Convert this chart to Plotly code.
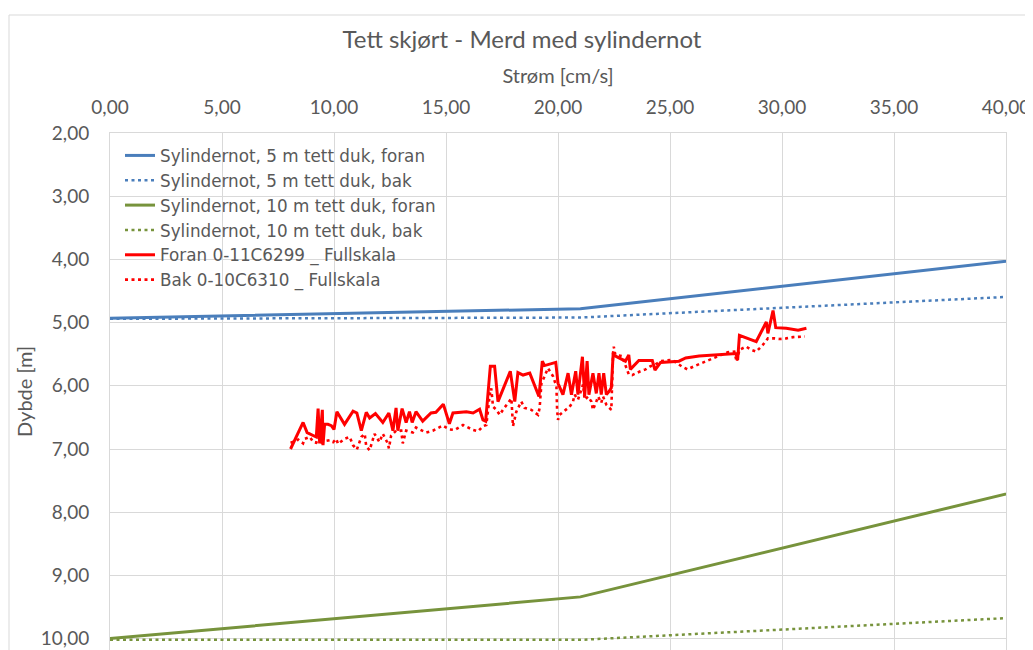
import plotly.graph_objects as go

# Model lines (current speed cm/s -> depth m)
model_x = [0.0, 21.0, 42.0]
cyl5_front = [4.93, 4.78, 3.95]
cyl5_back = [4.94, 4.92, 4.56]
cyl10_front = [10.0, 9.34, 7.54]
cyl10_back = [10.02, 10.02, 9.64]

# Full-scale measurements, front
foran_x = [8.06, 8.62, 8.80, 9.21, 9.29, 9.36, 9.48, 9.51, 9.58, 9.73, 9.88, 10.00, 10.13, 10.47,
           10.85, 11.02, 11.22, 11.44, 11.59, 11.85, 12.18, 12.45, 12.63, 12.77, 12.85, 13.04,
           13.22, 13.37, 13.49, 13.66, 13.96, 14.33, 14.55, 14.88, 15.15, 15.31, 15.91, 16.21,
           16.50, 16.65, 16.77, 16.98, 17.17, 17.32, 17.87, 18.07, 18.21, 18.44, 18.74, 18.96,
           19.15, 19.30, 19.40, 19.90, 20.00, 20.22, 20.45, 20.60, 20.79, 20.89, 21.09, 21.19,
           21.30, 21.38, 21.56, 21.71, 21.83, 21.93, 22.04, 22.16, 22.28, 22.38, 22.46, 23.01,
           23.16, 23.23, 23.61, 24.21, 24.33, 24.58, 25.40, 25.70, 26.30, 27.95, 28.02, 28.10,
           28.85, 29.30, 29.37, 29.60, 29.72, 30.19, 30.72, 31.09]
foran_y = [7.00, 6.58, 6.74, 6.81, 6.36, 6.91, 6.38, 6.94, 6.61, 6.61, 6.63, 6.69, 6.41, 6.61,
           6.40, 6.43, 6.71, 6.42, 6.51, 6.44, 6.58, 6.43, 6.71, 6.35, 6.71, 6.36,
           6.58, 6.41, 6.58, 6.41, 6.56, 6.43, 6.42, 6.29, 6.60, 6.43, 6.41, 6.43,
           6.37, 6.54, 6.56, 5.69, 5.69, 6.25, 5.77, 6.25, 5.79, 5.83, 5.80, 6.01,
           6.17, 5.61, 5.68, 5.63, 5.96, 6.14, 5.80, 6.14, 5.77, 6.14, 5.54, 6.17,
           5.61, 6.14, 5.80, 6.12, 5.80, 6.14, 5.80, 6.14, 6.09, 6.03, 5.51, 5.61,
           5.51, 5.74, 5.60, 5.60, 5.75, 5.63, 5.61, 5.56, 5.53, 5.49, 5.59, 5.20,
           5.30, 4.99, 5.17, 4.81, 5.08, 5.09, 5.12, 5.09]

# Full-scale measurements, back
bak_x = [8.06, 8.25, 8.40, 8.62, 8.69, 8.92, 9.07, 9.21, 9.33, 9.44, 9.51, 9.66, 9.81, 9.96,
         10.10, 10.18, 10.47, 10.70, 10.85, 11.02, 11.22, 11.37, 11.44, 11.59, 11.81, 12.03,
         12.18, 12.40, 12.45, 12.55, 12.77, 13.00, 13.07, 13.22, 13.52, 13.66, 14.11, 14.41,
         14.85, 15.15, 15.39, 15.76, 16.21, 16.43, 16.65, 16.80, 16.88, 16.95, 17.02, 17.10,
         17.25, 17.40, 17.54, 17.84, 17.92, 17.99, 18.07, 18.14, 18.36, 18.51, 18.81, 19.11,
         19.18, 19.26, 19.40, 19.55, 19.78, 19.93, 19.96, 20.00, 20.07, 20.37, 20.52, 20.67,
         20.74, 20.89, 21.04, 21.12, 21.19, 21.34, 21.49, 21.56, 21.71, 21.79, 21.93, 22.01,
         22.16, 22.38, 22.46, 22.49, 22.56, 22.86, 23.16, 23.31, 23.68, 23.91, 24.13, 24.36,
         24.58, 25.10, 25.55, 25.78, 26.08, 26.60, 27.20, 27.57, 27.87, 27.98, 28.10, 28.40,
         28.62, 28.85, 29.15, 29.37, 29.67, 29.90, 30.19, 30.49, 31.02]
bak_y = [6.90, 6.88, 6.85, 6.91, 6.84, 6.81, 6.89, 6.90, 6.81, 6.89, 6.86, 6.87, 6.86, 6.89,
         6.84, 6.92, 6.84, 6.81, 6.94, 7.01, 6.81, 6.76, 6.96, 7.02, 6.76, 6.89,
         6.76, 6.91, 6.99, 6.79, 6.71, 6.71, 6.91, 6.71, 6.74, 6.66, 6.74, 6.71,
         6.63, 6.69, 6.70, 6.62, 6.70, 6.72, 6.64, 6.62, 6.38, 6.14, 6.04, 6.33,
         6.38, 6.46, 6.38, 6.25, 6.20, 6.64, 6.54, 6.41, 6.25, 6.35, 6.38, 6.46,
         6.35, 5.96, 5.85, 5.72, 5.85, 6.01, 6.38, 6.54, 6.46, 6.38, 6.33, 6.25,
         6.14, 6.22, 6.04, 5.98, 6.22, 6.17, 6.25, 6.38, 6.25, 6.17, 6.27, 6.17,
         6.30, 6.38, 5.48, 5.38, 5.51, 5.53, 5.82, 5.83, 5.77, 5.74, 5.69, 5.66,
         5.61, 5.59, 5.70, 5.74, 5.69, 5.61, 5.53, 5.47, 5.46, 5.62, 5.43, 5.38,
         5.43, 5.46, 5.35, 5.25, 5.25, 5.26, 5.25, 5.23, 5.22]

x_ticks = [0, 5, 10, 15, 20, 25, 30, 35, 40]
y_ticks = [2, 3, 4, 5, 6, 7, 8, 9, 10]

BLUE = "#4A7EBB"
GREEN = "#77933C"
RED = "#FF0000"
GRID = "#D9D9D9"
TXT = "#595959"
FONT = "Lato"
LEGFONT = "DejaVu Sans"
DOT = "3px,3.5px"

fig = go.Figure()
fig.add_trace(go.Scatter(x=model_x, y=cyl5_front, mode="lines",
                         name="Sylindernot, 5 m tett duk, foran",
                         line=dict(color=BLUE, width=3)))
fig.add_trace(go.Scatter(x=model_x, y=cyl5_back, mode="lines",
                         name="Sylindernot, 5 m tett duk, bak",
                         line=dict(color=BLUE, width=2.5, dash=DOT)))
fig.add_trace(go.Scatter(x=model_x, y=cyl10_front, mode="lines",
                         name="Sylindernot, 10 m tett duk, foran",
                         line=dict(color=GREEN, width=3)))
fig.add_trace(go.Scatter(x=model_x, y=cyl10_back, mode="lines",
                         name="Sylindernot, 10 m tett duk, bak",
                         line=dict(color=GREEN, width=2.5, dash=DOT)))
fig.add_trace(go.Scatter(x=foran_x, y=foran_y, mode="lines",
                         name="Foran 0-11C6299 _ Fullskala",
                         line=dict(color=RED, width=3)))
fig.add_trace(go.Scatter(x=bak_x, y=bak_y, mode="lines",
                         name="Bak 0-10C6310 _ Fullskala",
                         line=dict(color=RED, width=2.6, dash=DOT)))

# page body has an 8px margin: figure coords = screen coords - 8
W, H = 1025, 642
L, R, T, B = 102, 27, 125, 0
pw, ph = W - L - R, H - T - B

fig.update_layout(
    width=W, height=H,
    margin=dict(l=L, r=R, t=T, b=B, pad=0, autoexpand=False),
    paper_bgcolor="white", plot_bgcolor="white",
    separators=", ",
    font=dict(family=FONT, color=TXT, size=19),
    title=dict(text="Tett skjørt - Merd med sylindernot",
               x=514 / W, xanchor="center", y=1 - 32 / H, yanchor="middle",
               font=dict(family=FONT, size=24, color=TXT)),
    showlegend=True,
    legend=dict(x=(112 - L) / pw, xanchor="left", y=(H - 130 - B) / ph, yanchor="top",
                bgcolor="rgba(0,0,0,0)", font=dict(family=LEGFONT, size=16.8, color=TXT),
                itemwidth=30, tracegroupgap=0),
    shapes=[dict(type="rect", xref="paper", yref="paper",
                 x0=(1 - L) / pw, x1=(W + 20 - L) / pw,
                 y0=-0.1, y1=(H - 7 - B) / ph,
                 line=dict(color=GRID, width=1), fillcolor="rgba(0,0,0,0)", layer="below")],
)

fig.update_xaxes(
    side="top", range=[0, 40], tickvals=x_ticks, tickformat=".2f",
    showgrid=True, gridcolor=GRID, gridwidth=1, zeroline=False,
    showline=True, linecolor=GRID, linewidth=1, mirror=True,
    ticks="", ticklabelstandoff=10, automargin=False,
    tickfont=dict(family=FONT, size=19, color=TXT),
    title=dict(text="Strøm [cm/s]", standoff=6, font=dict(family=FONT, size=20, color=TXT)),
)
fig.update_yaxes(
    range=[2 + ph / 63.2, 2], tickvals=y_ticks, tickformat=".2f",
    showgrid=True, gridcolor=GRID, gridwidth=1, zeroline=False,
    showline=True, linecolor=GRID, linewidth=1, mirror=True,
    ticks="", ticklabelstandoff=16, automargin=False,
    tickfont=dict(family=FONT, size=19, color=TXT),
    title=dict(text="Dybde [m]", standoff=2, font=dict(family=FONT, size=20, color=TXT)),
)

fig.write_html("out.html")
